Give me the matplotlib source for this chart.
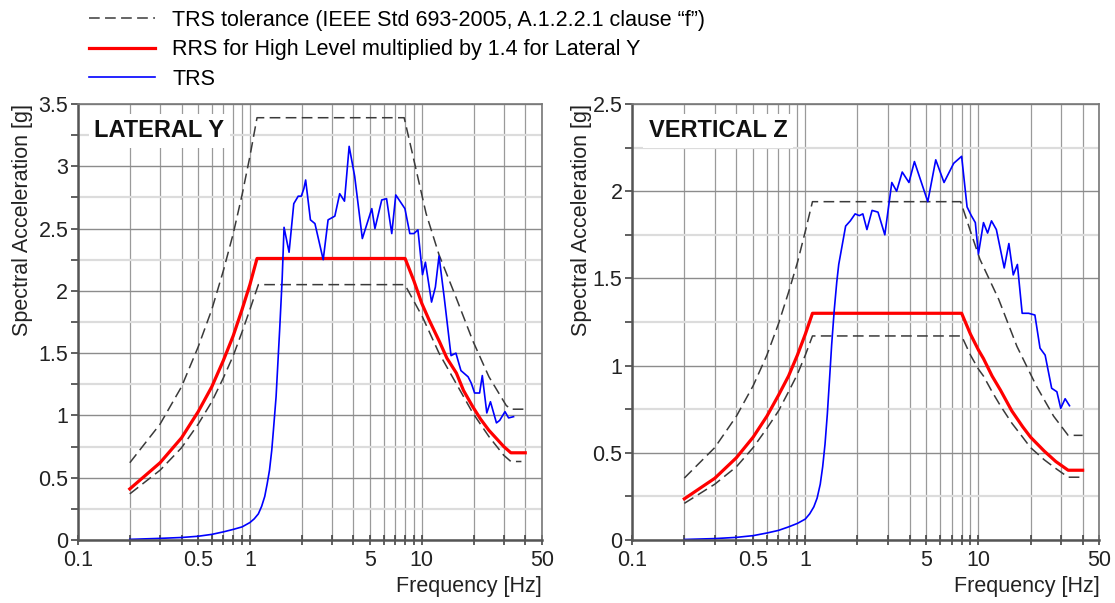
"""Seismic qualification plot: TRS vs RRS, lateral Y and vertical Z."""

import numpy as np
import matplotlib
matplotlib.use('Agg')
import matplotlib.pyplot as plt
from matplotlib.lines import Line2D
from matplotlib.ticker import FixedLocator, FixedFormatter, MultipleLocator

plt.rcParams['font.family'] = ['Liberation Sans', 'DejaVu Sans']

RED = '#ff0000'
BLUE = '#0000ff'
DASH = '#3a3a3a'
SPINE = '#555555'

# ---- Lateral Y ----
lat_rrs_f = [0.2, 0.3, 0.4, 0.5, 0.6, 0.7, 0.8, 0.9, 1.0, 1.1, 8.0, 9.0, 10.0,
             11.0, 12.7, 14.0, 15.9, 17.5, 19.8, 22.0, 24.6, 27.8, 30.0, 33.0, 40.0]
lat_rrs_v = [0.41, 0.62, 0.82, 1.03, 1.23, 1.44, 1.64, 1.85, 2.05, 2.26, 2.26, 2.08, 1.90,
             1.77, 1.59, 1.46, 1.34, 1.20, 1.07, 0.97, 0.88, 0.80, 0.75, 0.70, 0.70]

lat_up_f = [0.2, 0.3, 0.4, 0.5, 0.6, 0.7, 0.8, 0.9, 1.0, 1.1, 7.9, 9.0, 10.6,
            12.6, 15.8, 19.8, 24.6, 31.0, 33.0, 40.0]
lat_up_v = [0.62, 0.93, 1.23, 1.55, 1.85, 2.16, 2.46, 2.77, 3.08, 3.39, 3.39, 3.05, 2.62,
            2.29, 1.95, 1.60, 1.31, 1.08, 1.05, 1.05]

lat_lo_f = [0.2, 0.3, 0.4, 0.5, 0.6, 0.7, 0.8, 0.9, 1.0, 1.12, 7.97, 10.1,
            12.6, 15.8, 19.8, 24.6, 30.0, 33.0, 38.0]
lat_lo_v = [0.37, 0.56, 0.74, 0.93, 1.11, 1.30, 1.48, 1.67, 1.85, 2.05, 2.05, 1.79,
            1.50, 1.26, 1.02, 0.83, 0.68, 0.63, 0.63]

lat_trs_f = [0.2, 0.3, 0.4, 0.5, 0.6, 0.7, 0.8, 0.9, 1.0, 1.06, 1.12, 1.17, 1.22,
             1.26, 1.30, 1.34, 1.37, 1.42, 1.49, 1.54, 1.58, 1.69, 1.80, 1.91, 1.99,
             2.06, 2.11, 2.25, 2.39, 2.67, 2.85, 3.12, 3.33, 3.55, 3.78, 4.07, 4.51,
             5.12, 5.34, 5.85, 6.24, 6.69, 7.06, 7.98, 8.52, 9.0, 9.5, 10.1, 10.5,
             11.4, 12.0, 12.6, 13.5, 14.8, 15.8, 16.9, 18.6, 19.4, 20.3, 21.7, 22.5,
             23.9, 25.1, 27.2, 28.4, 30.5, 32.0, 34.2]
lat_trs_v = [0.005, 0.013, 0.02, 0.03, 0.045, 0.065, 0.085, 0.105, 0.14, 0.17, 0.21,
             0.27, 0.35, 0.45, 0.56, 0.72, 0.88, 1.15, 1.69, 2.09, 2.51, 2.31, 2.70,
             2.76, 2.76, 2.82, 2.89, 2.57, 2.54, 2.25, 2.57, 2.60, 2.78, 2.72, 3.16,
             2.92, 2.42, 2.66, 2.50, 2.73, 2.74, 2.46, 2.77, 2.66, 2.46, 2.46, 2.49,
             2.13, 2.23, 1.91, 2.03, 2.28, 1.95, 1.48, 1.50, 1.36, 1.31, 1.26, 1.18,
             1.18, 1.32, 1.02, 1.11, 0.94, 0.96, 1.03, 0.98, 0.99]

# ---- Vertical Z ----
ver_rrs_f = [0.2, 0.3, 0.4, 0.5, 0.6, 0.7, 0.8, 0.9, 1.0, 1.1, 8.0, 9.0, 10.0,
             10.7, 12.0, 13.4, 15.6, 18.0, 20.0, 24.0, 28.0, 33.0, 40.0]
ver_rrs_v = [0.236, 0.354, 0.472, 0.59, 0.71, 0.83, 0.94, 1.06, 1.18, 1.30, 1.30, 1.18,
             1.09, 1.04, 0.94, 0.86, 0.74, 0.65, 0.59, 0.51, 0.45, 0.40, 0.40]

ver_up_f = [0.2, 0.3, 0.4, 0.5, 0.6, 0.7, 0.8, 0.9, 1.0, 1.1, 7.9, 9.0, 10.2,
            13.1, 16.7, 21.7, 27.2, 33.0, 40.0]
ver_up_v = [0.355, 0.53, 0.71, 0.885, 1.06, 1.24, 1.42, 1.59, 1.77, 1.94, 1.94, 1.77,
            1.61, 1.38, 1.11, 0.88, 0.71, 0.60, 0.60]

ver_lo_f = [0.2, 0.3, 0.4, 0.5, 0.6, 0.7, 0.8, 0.9, 1.0, 1.1, 8.0, 9.0, 10.0,
            10.7, 12.0, 13.4, 15.6, 18.0, 20.0, 24.0, 28.0, 33.0, 40.0]
ver_lo_v = [0.21, 0.32, 0.42, 0.53, 0.64, 0.74, 0.85, 0.95, 1.06, 1.17, 1.17, 1.06,
            0.98, 0.94, 0.85, 0.77, 0.67, 0.59, 0.53, 0.46, 0.41, 0.36, 0.36]

ver_trs_f = [0.2, 0.3, 0.4, 0.5, 0.6, 0.7, 0.8, 0.9, 1.0, 1.06, 1.12, 1.17, 1.22,
             1.26, 1.30, 1.34, 1.38, 1.42, 1.47, 1.52, 1.56, 1.64, 1.71, 1.82, 1.94,
             2.05, 2.15, 2.27, 2.43, 2.63, 2.88, 3.16, 3.37, 3.63, 3.97, 4.27, 5.1,
             5.67, 6.33, 7.2, 8.0, 8.6, 9.1, 9.6, 10.0, 10.7, 11.3, 11.9, 12.7, 14.1,
             15.0, 15.9, 16.8, 17.9, 19.5, 21.2, 22.7, 24.3, 26.5, 28.4, 29.9, 31.7, 33.6]
ver_trs_v = [0.003, 0.008, 0.015, 0.025, 0.04, 0.055, 0.075, 0.095, 0.12, 0.15, 0.19,
             0.24, 0.32, 0.42, 0.55, 0.72, 0.92, 1.12, 1.32, 1.48, 1.58, 1.70, 1.80,
             1.83, 1.87, 1.86, 1.87, 1.78, 1.89, 1.88, 1.75, 2.05, 2.00, 2.11, 2.05,
             2.17, 1.94, 2.18, 2.05, 2.16, 2.20, 1.91, 1.86, 1.82, 1.64, 1.82, 1.76,
             1.83, 1.78, 1.56, 1.70, 1.52, 1.58, 1.30, 1.30, 1.29, 1.10, 1.06, 0.87,
             0.85, 0.755, 0.81, 0.77]

x_major = [0.1, 0.5, 1, 5, 10, 50]
x_major_labels = ['0.1', '0.5', '1', '5', '10', '50']
x_minor = [0.2, 0.3, 0.4, 0.6, 0.7, 0.8, 0.9, 2, 3, 4, 6, 7, 8, 9, 20, 30, 40]

LEGEND_LABELS = ['TRS tolerance (IEEE Std 693-2005, A.1.2.2.1 clause \u201cf\u201d)',
                 'RRS for High Level multiplied by 1.4 for Lateral Y',
                 'TRS']


def style_axis(ax, ymax, title, ylab_x):
    ax.set_xscale('log')
    ax.set_xlim(0.1, 50)
    ax.set_ylim(0, ymax)
    ax.xaxis.set_major_locator(FixedLocator(x_major))
    ax.xaxis.set_major_formatter(FixedFormatter(x_major_labels))
    ax.xaxis.set_minor_locator(FixedLocator(x_minor))
    ax.xaxis.set_minor_formatter(FixedFormatter([''] * len(x_minor)))
    ax.yaxis.set_major_locator(MultipleLocator(0.5))
    ax.yaxis.set_minor_locator(MultipleLocator(0.25))
    ax.yaxis.set_major_formatter(plt.FuncFormatter(lambda v, p: f'{v:g}'))

    # grid: light thick lines at quarter steps, darker at half steps
    ax.grid(True, which='both', axis='x', color='#9a9a9a', lw=0.9)
    ax.grid(True, which='major', axis='y', color='#8c8c8c', lw=1.0)
    ax.grid(True, which='minor', axis='y', color='#dcdcdc', lw=1.6)
    ax.set_axisbelow(True)

    ax.tick_params(axis='both', which='both', colors='#444444', labelcolor='#222222',
                   labelsize=15.5)
    ax.tick_params(axis='x', which='both', direction='inout', length=7, width=1.2,
                   pad=4)
    ax.tick_params(axis='y', which='both', direction='out', length=5, width=1.2,
                   pad=2)
    for side in ['left', 'bottom']:
        ax.spines[side].set_color(SPINE)
        ax.spines[side].set_linewidth(1.8)
    for side in ['top', 'right']:
        ax.spines[side].set_color('#777777')
        ax.spines[side].set_linewidth(1.2)

    ax.set_ylabel('Spectral Acceleration [g]', fontsize=15.5, color='#222222',
                  loc='top')
    ax.yaxis.set_label_coords(ylab_x, 1.0)
    ax.set_xlabel('Frequency [Hz]', fontsize=15.5, color='#222222', loc='right',
                  labelpad=3)
    ax.text(0.035, 0.965, title, transform=ax.transAxes, fontsize=17,
            fontweight='bold', va='top', ha='left', color='#111111',
            bbox=dict(facecolor='white', edgecolor='none', pad=4))


def draw(ax, up_f, up_v, lo_f, lo_v, rrs_f, rrs_v, trs_f, trs_v):
    dash = dict(color=DASH, lw=1.1, dashes=(7, 3.5))
    ax.plot(up_f, up_v, **dash)
    ax.plot(lo_f, lo_v, **dash)
    ax.plot(rrs_f, rrs_v, color=RED, lw=2.3)
    ax.plot(trs_f, trs_v, color=BLUE, lw=1.2)


def main():
    fig = plt.figure(figsize=(11.15, 6.03), dpi=100, facecolor='white')
    ax1 = fig.add_axes([0.070, 0.1045, 0.416, 0.723])
    ax2 = fig.add_axes([0.567, 0.1045, 0.419, 0.723])

    draw(ax1, lat_up_f, lat_up_v, lat_lo_f, lat_lo_v,
         lat_rrs_f, lat_rrs_v, lat_trs_f, lat_trs_v)
    draw(ax2, ver_up_f, ver_up_v, ver_lo_f, ver_lo_v,
         ver_rrs_f, ver_rrs_v, ver_trs_f, ver_trs_v)
    style_axis(ax1, 3.5, 'LATERAL Y', -0.097)
    style_axis(ax2, 2.5, 'VERTICAL Z', -0.085)

    handles = [Line2D([], [], color=DASH, lw=1.1, dashes=(7, 3.5)),
               Line2D([], [], color=RED, lw=2.3),
               Line2D([], [], color=BLUE, lw=1.2)]
    fig.legend(handles, LEGEND_LABELS, loc='upper left',
               bbox_to_anchor=(0.062, 1.016), frameon=False, fontsize=15.5,
               handlelength=3.1, handletextpad=0.8, labelspacing=0.4)

    fig.savefig('out.png', dpi=100, facecolor='white')
    plt.close(fig)


if __name__ == "__main__":
    main()
